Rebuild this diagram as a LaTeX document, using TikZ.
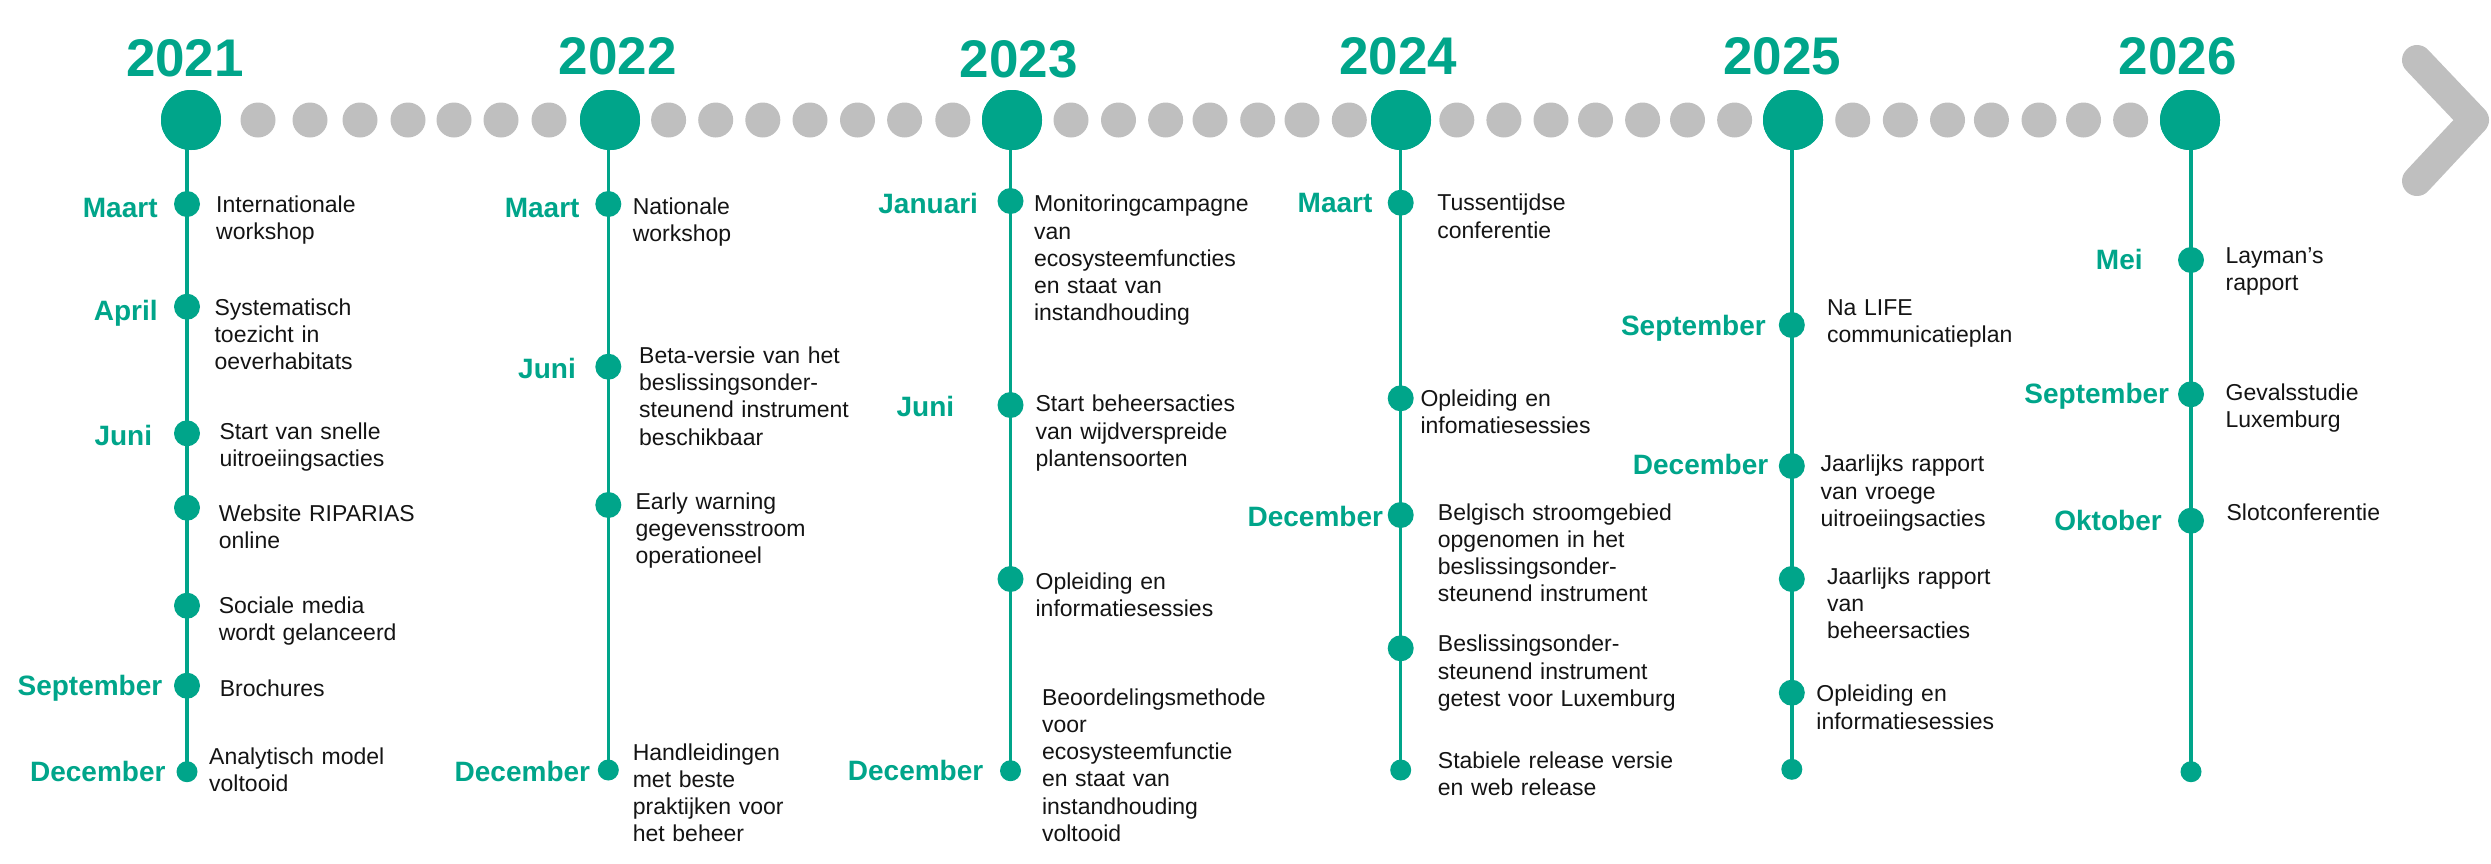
\documentclass[tikz,border=0pt]{standalone}
\usepackage{fontspec}
\setmainfont{Liberation Sans}
\definecolor{tl}{RGB}{0,165,138}
\definecolor{gr}{RGB}{191,191,191}
\definecolor{txt}{RGB}{20,20,20}
\begin{document}
\begin{tikzpicture}[x=1pt,y=-1pt,
  bigdot/.style={circle,fill=tl,inner sep=0pt,minimum size=60pt},
  graydot/.style={circle,fill=gr,inner sep=0pt,minimum size=35pt},
  evdot/.style={circle,fill=tl,inner sep=0pt,minimum size=26pt},
  enddot/.style={circle,fill=tl,inner sep=0pt,minimum size=21pt},
  yearlbl/.style={anchor=base,inner sep=0pt,text=tl,font=\fontsize{53}{60}\selectfont\bfseries},
  monthlbl/.style={anchor=base east,inner sep=0pt,text=tl,font=\fontsize{28}{32}\selectfont\bfseries},
  desc/.style={anchor=base west,inner sep=0pt,text width=320pt,align=left,text=txt,font=\fontsize{23}{27.3}\selectfont},
  vline/.style={draw=tl,line width=3.5pt},
  chev/.style={draw=gr,line width=30pt,line cap=round,line join=round}]
\useasboundingbox (0,0) rectangle (2491,863);

% gray dots
\foreach \x [count=\i] in {258,310,360,408,454,501,549,
  668.6,715.7,762.8,810,857.5,904.6,952.8,
  1071,1118.5,1165.6,1210,1257.7,1302,1349.3,
  1456.8,1503.9,1551,1595.5,1642.6,1687.5,1734.6,
  1852.7,1900.3,1947.5,1991.4,2039,2083.5,2130.6}
  \node[graydot] (g\i) at (\x,120) {};

% chevron
\draw[chev] (2417,60) -- (2474,120) -- (2417,181);

% year circles
\node[bigdot] (y21) at (191,120) {};
\node[bigdot] (y22) at (610,120) {};
\node[bigdot] (y23) at (1012,120) {};
\node[bigdot] (y24) at (1401,120) {};
\node[bigdot] (y25) at (1793,120) {};
\node[bigdot] (y26) at (2190,120) {};

% year labels
\node[yearlbl] (t21) at (185,76) {2021};
\node[yearlbl] (t22) at (617.6,74) {2022};
\node[yearlbl] (t23) at (1018.6,77.3) {2023};
\node[yearlbl] (t24) at (1398,74) {2024};
\node[yearlbl] (t25) at (1782.3,74) {2025};
\node[yearlbl] (t26) at (2177.8,74) {2026};

% end dots (coordinates first so lines are drawn below)
\coordinate (a7) at (187,771.7);
\coordinate (b4) at (608.3,770);
\coordinate (c4) at (1010.5,770.7);
\coordinate (d5) at (1400.7,770);
\coordinate (e5) at (1791.8,769.3);
\coordinate (f4) at (2191,771.7);

\draw[vline] (a7 |- y21) -- (a7);
\draw[vline] (b4 |- y22) -- (b4);
\draw[vline] (c4 |- y23) -- (c4);
\draw[vline] (d5 |- y24) -- (d5);
\draw[vline] (e5 |- y25) -- (e5);
\draw[vline] (f4 |- y26) -- (f4);

\node[bigdot] at (y21) {};
\node[bigdot] at (y22) {};
\node[bigdot] at (y23) {};
\node[bigdot] at (y24) {};
\node[bigdot] at (y25) {};
\node[bigdot] at (y26) {};

% ---------- 2021 ----------
\node[evdot] (a1) at (187,204) {};
\node[monthlbl] (ma1) at (157.8,217) {Maart};
\node[desc] (da1) at (216,212.3) {Internationale\\workshop};
\node[evdot] (a2) at (187,306.7) {};
\node[monthlbl] (ma2) at (157.8,320.7) {April};
\node[desc] (da2) at (214.4,315) {Systematisch\\toezicht in\\oeverhabitats};
\node[evdot] (a3) at (187,433.3) {};
\node[monthlbl] (ma3) at (152.3,445) {Juni};
\node[desc] (da3) at (219.3,439) {Start van snelle\\uitroeiingsacties};
\node[evdot] (a4) at (187,507.7) {};
\node[desc] (da4) at (218.6,521) {Website RIPARIAS\\online};
\node[evdot] (a5) at (187,605.7) {};
\node[desc] (da5) at (218.6,613.3) {Sociale media\\wordt gelanceerd};
\node[evdot] (a6) at (187,685.7) {};
\node[monthlbl] (ma6) at (162.5,695) {September};
\node[desc] (da6) at (219.7,696.7) {Brochures};
\node[enddot] (a7n) at (a7) {};
\node[monthlbl] (ma7) at (165.7,781.7) {December};
\node[desc] (da7) at (209,764.3) {Analytisch model\\voltooid};

% ---------- 2022 ----------
\node[evdot] (b1) at (608.3,204) {};
\node[monthlbl] (mb1) at (579.7,217) {Maart};
\node[desc] (db1) at (632.6,214.3) {Nationale\\workshop};
\node[evdot] (b2) at (608.3,366.7) {};
\node[monthlbl] (mb2) at (576,378.3) {Juni};
\node[desc] (db2) at (639,363.3) {Beta-versie van het\\beslissingsonder-\\steunend instrument\\beschikbaar};
\node[evdot] (b3) at (608.3,505) {};
\node[desc] (db3) at (635.3,509.3) {Early warning\\gegevensstroom\\operationeel};
\node[enddot] (b4n) at (b4) {};
\node[monthlbl] (mb4) at (590.3,781.7) {December};
\node[desc] (db4) at (632.6,760) {Handleidingen\\met beste\\praktijken voor\\het beheer};

% ---------- 2023 ----------
\node[evdot] (c1) at (1010.5,201) {};
\node[monthlbl] (mc1) at (978.2,213.3) {Januari};
\node[desc] (dc1) at (1033.8,211.7) {Monitoringcampagne\\van\\ecosysteemfuncties\\en staat van\\instandhouding};
\node[evdot] (c2) at (1010.5,405) {};
\node[monthlbl] (mc2) at (954.4,416.7) {Juni};
\node[desc] (dc2) at (1035.4,411.7) {Start beheersacties\\van wijdverspreide\\plantensoorten};
\node[evdot] (c3) at (1010.5,579) {};
\node[desc] (dc3) at (1035.4,589.3) {Opleiding en\\informatiesessies};
\node[enddot] (c4n) at (c4) {};
\node[monthlbl] (mc4) at (983.5,780) {December};
\node[desc] (dc4) at (1041.8,705) {Beoordelingsmethode\\voor\\ecosysteemfunctie\\en staat van\\instandhouding\\voltooid};

% ---------- 2024 ----------
\node[evdot] (d1) at (1400.7,202.7) {};
\node[monthlbl] (md1) at (1372.6,212.7) {Maart};
\node[desc] (dd1) at (1437.2,210.7) {Tussentijdse\\conferentie};
\node[evdot] (d2) at (1400.7,398.3) {};
\node[desc] (dd2) at (1420.3,406) {Opleiding en\\infomatiesessies};
\node[evdot] (d3) at (1400.7,515) {};
\node[monthlbl] (md3) at (1383.2,526.7) {December};
\node[desc] (dd3) at (1437.7,520) {Belgisch stroomgebied\\opgenomen in het\\beslissingsonder-\\steunend instrument};
\node[evdot] (d4) at (1400.7,648.3) {};
\node[desc] (dd4) at (1437.7,651.7) {Beslissingsonder-\\steunend instrument\\getest voor Luxemburg};
\node[enddot] (d5n) at (d5) {};
\node[desc] (dd5) at (1437.7,768.3) {Stabiele release versie\\en web release};

% ---------- 2025 ----------
\node[evdot] (e1) at (1791.8,325) {};
\node[monthlbl] (me1) at (1765.9,335) {September};
\node[desc] (de1) at (1826.8,315) {Na LIFE\\communicatieplan};
\node[evdot] (e2) at (1791.8,466) {};
\node[monthlbl] (me2) at (1768.5,474.3) {December};
\node[desc] (de2) at (1820.4,471.7) {Jaarlijks rapport\\van vroege\\uitroeiingsacties};
\node[evdot] (e3) at (1791.8,579) {};
\node[desc] (de3) at (1826.8,584.3) {Jaarlijks rapport\\van\\beheersacties};
\node[evdot] (e4) at (1791.8,692.7) {};
\node[desc] (de4) at (1816.2,701.7) {Opleiding en\\informatiesessies};
\node[enddot] (e5n) at (e5) {};

% ---------- 2026 ----------
\node[evdot] (f1) at (2191,260) {};
\node[monthlbl] (mf1) at (2142.8,269.3) {Mei};
\node[desc] (df1) at (2225.4,263.3) {Layman’s\\rapport};
\node[evdot] (f2) at (2191,394.3) {};
\node[monthlbl] (mf2) at (2169.3,403.3) {September};
\node[desc] (df2) at (2225.4,400) {Gevalsstudie\\Luxemburg};
\node[evdot] (f3) at (2191,520.7) {};
\node[monthlbl] (mf3) at (2161.9,530) {Oktober};
\node[desc] (df3) at (2226.4,520) {Slotconferentie};
\node[enddot] (f4n) at (f4) {};
\end{tikzpicture}
\end{document}
